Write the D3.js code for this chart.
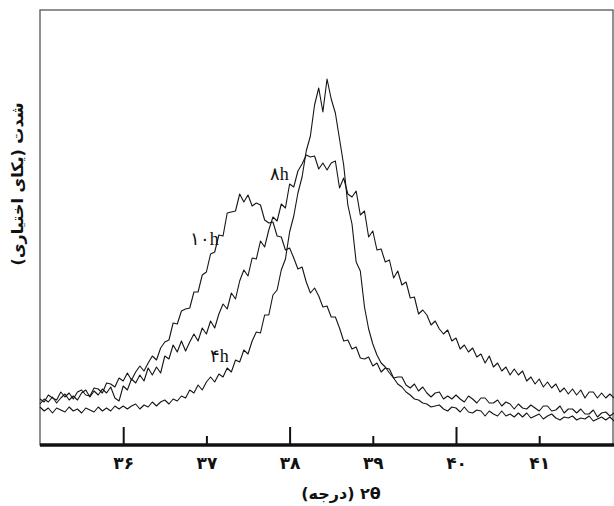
<!DOCTYPE html>
<html>
<head>
<meta charset="utf-8">
<script src="https://cdn.jsdelivr.net/npm/d3@7"></script>
<style>
  body { margin: 0; background: #fff; }
  svg { display: block; }
  .curve { fill: none; stroke: #151515; stroke-width: 1.1; stroke-linejoin: round; }
  .axis path { display: none; }
  .axis text { font-family: "DejaVu Sans", sans-serif; font-weight: bold; font-size: 17px; fill: #111; }
  .label { font-family: "Liberation Serif", "DejaVu Serif", serif; font-size: 18px; fill: #111; }
  .title { font-family: "DejaVu Sans", sans-serif; font-weight: bold; font-size: 16px; fill: #111; }
</style>
</head>
<body>
<div id="chart"></div>
<script>
// 2-theta scan positions (degrees)
const twoTheta = [
  35.00,35.05,35.10,35.15,35.20,35.25,35.30,35.35,35.40,35.45,
  35.50,35.55,35.60,35.65,35.70,35.75,35.80,35.85,35.90,35.95,
  36.00,36.05,36.10,36.15,36.20,36.25,36.30,36.35,36.40,36.45,
  36.50,36.55,36.60,36.65,36.70,36.75,36.80,36.85,36.90,36.95,
  37.00,37.05,37.10,37.15,37.20,37.25,37.30,37.35,37.40,37.45,
  37.50,37.55,37.60,37.65,37.70,37.75,37.80,37.85,37.90,37.95,
  38.00,38.05,38.10,38.15,38.20,38.25,38.30,38.35,38.40,38.45,
  38.50,38.55,38.60,38.65,38.70,38.75,38.80,38.85,38.90,38.95,
  39.00,39.05,39.10,39.15,39.20,39.25,39.30,39.35,39.40,39.45,
  39.50,39.55,39.60,39.65,39.70,39.75,39.80,39.85,39.90,39.95,
  40.00,40.05,40.10,40.15,40.20,40.25,40.30,40.35,40.40,40.45,
  40.50,40.55,40.60,40.65,40.70,40.75,40.80,40.85,40.90,40.95,
  41.00,41.05,41.10,41.15,41.20,41.25,41.30,41.35,41.40,41.45,
  41.50,41.55,41.60,41.65,41.70,41.75,41.80,41.85,41.90
];

// intensities (arbitrary units)
const int10h = [
  46,43,50,47,45,53,48,52,46,53,
  55,50,49,57,56,52,62,61,58,67,
  64,72,65,73,79,74,82,89,85,97,
  103,105,122,121,134,136,137,153,153,170,
  173,191,193,210,209,232,233,234,251,243,
  250,239,242,240,225,222,223,209,208,195,
  197,187,176,178,163,152,157,149,138,139,
  128,128,117,104,105,96,98,87,86,88,
  79,82,73,77,76,67,68,68,60,57,
  61,54,58,52,48,52,53,46,49,46,
  50,46,43,49,46,42,47,47,42,42,
  45,39,43,41,36,41,37,36,40,37,
  34,39,39,34,35,39,32,36,36,32,
  36,31,31,35,28,32,33,29,32
];

const int8h = [
  41,46,43,48,42,47,51,45,49,45,
  52,55,48,54,50,56,52,58,47,44,
  59,55,66,62,70,64,77,70,78,72,
  89,86,100,93,104,94,103,111,104,117,
  111,124,117,131,141,136,152,146,164,175,
  169,187,186,204,198,215,228,224,241,237,
  261,258,274,281,290,288,289,276,282,275,
  282,284,257,267,251,248,254,230,234,208,
  214,195,196,183,185,167,174,160,163,147,
  148,131,135,130,120,124,116,111,115,104,
  107,96,100,93,97,88,91,82,89,78,
  82,74,78,70,76,70,74,64,68,61,
  66,58,63,57,61,53,57,51,56,50,
  55,47,53,53,47,52,47,51,47
];

const int4h = [
  38,34,37,32,37,35,33,38,34,36,
  32,37,35,33,38,34,37,34,39,36,
  39,36,39,41,36,40,38,43,39,43,
  45,41,46,44,49,47,55,52,60,55,
  63,68,63,71,68,77,73,85,83,95,
  91,104,113,112,130,130,150,155,175,186,
  213,229,252,268,294,309,340,357,333,366,
  346,332,306,280,240,221,183,174,138,116,
  101,90,82,78,72,67,61,58,53,50,
  46,45,42,41,38,39,40,36,34,38,
  37,33,38,33,32,35,34,29,34,31,
  29,34,29,31,28,32,28,32,27,29,
  31,26,29,31,27,25,28,27,29,25,
  27,26,29,24,26,28,25,28,24
];

const tickValues = [36, 37, 38, 39, 40, 41];
const majorTicks = [36, 38, 40];

// curve labels: [text, 2theta, intensity]
const curveLabels = [
  ['۱۰h', 36.80, 200],
  ['۸h', 37.76, 265],
  ['۴h', 37.04, 83]
];

const xTitle = '۲θ (درجه)';
const yTitle = 'شدت (یکای اختیاری)';

const toFa = n => String(n).replace(/\d/g, d => '۰۱۲۳۴۵۶۷۸۹'[d]);

const width = 614, height = 506;
const margin = {top: 10, left: 40, bottom: 61};

const svg = d3.select('#chart').append('svg')
  .attr('width', width)
  .attr('height', height);

const x = d3.scaleLinear().domain([35, 42]).range([margin.left, margin.left + 7 * 83.2]);
const y = d3.scaleLinear().domain([0, 435]).range([height - margin.bottom, margin.top]);

// frame
svg.append('rect')
  .attr('x', margin.left)
  .attr('y', margin.top)
  .attr('width', 613 - margin.left)
  .attr('height', y(0) - margin.top)
  .attr('fill', 'none')
  .attr('stroke', '#555')
  .attr('stroke-width', 1.3);

// curves
const line = d3.line()
  .x((d, i) => x(twoTheta[i]))
  .y(d => y(d));

[int10h, int8h, int4h].forEach(function(series) {
  svg.append('path')
    .attr('class', 'curve')
    .attr('d', line(series));
});

// axis
const xAxis = svg.append('g')
  .attr('class', 'axis')
  .attr('transform', 'translate(0,' + y(0) + ')')
  .call(d3.axisBottom(x)
    .tickValues(tickValues)
    .tickSizeOuter(0)
    .tickSizeInner(0)
    .tickPadding(12)
    .tickFormat(toFa));

xAxis.selectAll('.tick line')
  .attr('stroke', '#111')
  .attr('stroke-width', 2)
  .attr('y2', d => majorTicks.includes(d) ? -18 : -9);

svg.append('line')
  .attr('x1', margin.left)
  .attr('x2', width)
  .attr('y1', y(0))
  .attr('y2', y(0))
  .attr('stroke', '#111')
  .attr('stroke-width', 3.5);

// labels on curves
svg.selectAll('.label')
  .data(curveLabels).enter()
  .append('text')
  .attr('class', 'label')
  .attr('x', d => x(d[1]))
  .attr('y', d => y(d[2]))
  .text(d => d[0]);

// titles
svg.append('text')
  .attr('class', 'title')
  .attr('x', 341)
  .attr('y', 499)
  .attr('text-anchor', 'middle')
  .attr('direction', 'rtl')
  .text(xTitle);

svg.append('text')
  .attr('class', 'title')
  .attr('transform', 'translate(23,184) rotate(-90)')
  .attr('text-anchor', 'middle')
  .attr('direction', 'rtl')
  .text(yTitle);
</script>
</body>
</html>
